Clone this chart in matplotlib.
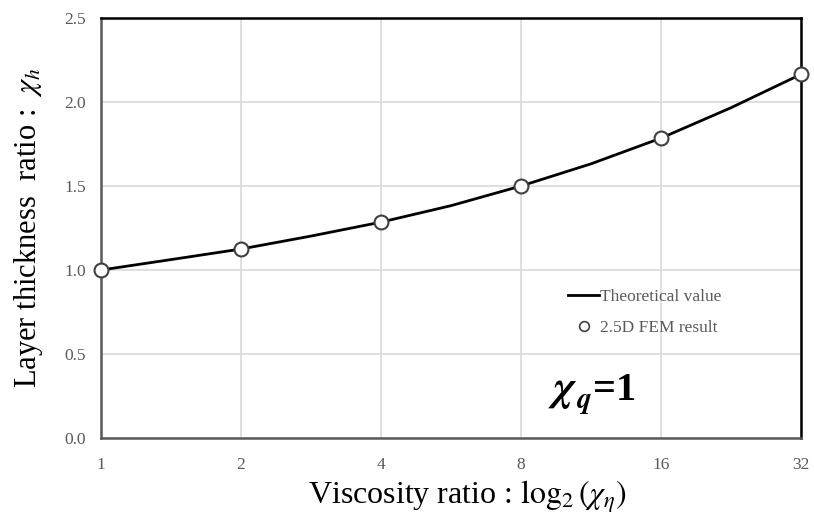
import matplotlib
matplotlib.use("Agg")
import matplotlib.pyplot as plt
from matplotlib.lines import Line2D

plt.rcParams['font.family'] = ['Liberation Serif', 'DejaVu Serif']
plt.rcParams['mathtext.fontset'] = 'stix'

# Data
x_labels = ["1", "2", "4", "8", "16", "32"]
fem_values = [1.00, 1.125, 1.285, 1.50, 1.785, 2.165]
# theoretical curve values read at each tick and halfway between ticks
theory_pos = [0, 0.5, 1, 1.5, 2, 2.5, 3, 3.5, 4, 4.5, 5]
theory_values = [1.00, 1.062, 1.125, 1.202, 1.285, 1.383, 1.50, 1.632, 1.785, 1.966, 2.165]
y_ticks = [0.0, 0.5, 1.0, 1.5, 2.0, 2.5]

fig = plt.figure(figsize=(8.14, 5.18), dpi=100)
ax = fig.add_axes([0.124, 0.1544, 0.860, 0.8108])

pos = list(range(len(x_labels)))
ax.plot(theory_pos, theory_values, color='black', lw=2.0, zorder=3, clip_on=False,
        solid_joinstyle='round')
ax.plot(pos, fem_values, linestyle='none', marker='o', markersize=10,
        markerfacecolor='white', markeredgecolor='#404040', markeredgewidth=1.5,
        zorder=4, clip_on=False)

ax.set_xlim(0, 5)
ax.set_ylim(0, 2.5)
ax.set_xticks(pos)
ax.set_xticklabels(x_labels)
ax.set_yticks(y_ticks)
ax.set_yticklabels([f"{v:.1f}" for v in y_ticks])
ax.tick_params(length=0, labelsize=12.5, colors='#595959')
ax.tick_params(axis='x', pad=14)
ax.tick_params(axis='y', pad=11)
ax.grid(True, color='#d9d9d9', lw=1.2)
ax.set_axisbelow(True)

for s in ['left', 'bottom']:
    ax.spines[s].set_color('#595959')
    ax.spines[s].set_linewidth(1.8)
for s in ['top', 'right']:
    ax.spines[s].set_color('black')
    ax.spines[s].set_linewidth(1.8)

ax.set_ylabel(r"Layer thickness  ratio :  $\chi_h$", fontsize=22, labelpad=14)
ax.set_xlabel(r"Viscosity ratio : $\log_2(\chi_\eta)$", fontsize=23, labelpad=4)
ax.xaxis.label.set_x(0.524)

handles = [Line2D([0], [0], color='black', lw=2.0),
           Line2D([0], [0], linestyle='none', marker='o', markersize=7,
                  markerfacecolor='white', markeredgecolor='#404040', markeredgewidth=1.2)]
leg = ax.legend(handles, ["Theoretical value", "2.5D FEM result"], loc='upper left',
                bbox_to_anchor=(0.645, 0.392), frameon=False, fontsize=12.5,
                handlelength=1.8, handletextpad=0.05, labelspacing=0.85)
for t in leg.get_texts():
    t.set_color('#595959')

# chi_q = 1 annotation
bi = dict(family='STIXGeneral', fontweight='bold', fontstyle='italic',
          transform=ax.transAxes, va='baseline', ha='left')
ax.text(0.647, 0.09, "χ", fontsize=31, **bi)
ax.text(0.680, 0.072, "q", fontsize=21, **bi)
ax.text(0.703, 0.09, "=1", fontsize=29, family='Liberation Serif', fontweight='bold',
        transform=ax.transAxes, va='baseline', ha='left')

fig.savefig("out.png", dpi=100)
